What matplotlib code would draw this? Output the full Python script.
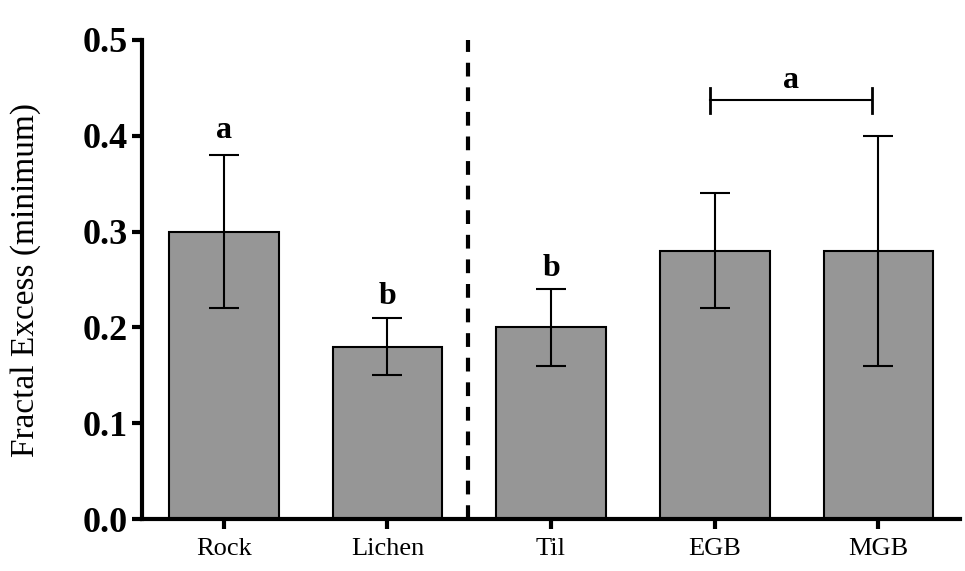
import numpy as np
import matplotlib
matplotlib.use("Agg")
import matplotlib.pyplot as plt

plt.rcParams['font.family'] = ['Liberation Serif', 'DejaVu Serif']

# data
groups = ["Rock", "Lichen", "Til", "EGB", "MGB"]
means = [0.30, 0.18, 0.20, 0.28, 0.28]
err_low = [0.08, 0.03, 0.04, 0.06, 0.12]
err_high = [0.08, 0.03, 0.04, 0.06, 0.12]
letters = ["a", "b", "b", "", ""]
letter_y = [0.406, 0.232, 0.261, None, None]
bracket_y = 0.437
bracket_label = "a"

fig = plt.figure(figsize=(9.65, 5.71), dpi=100)
ax = fig.add_axes([0.147, 0.091, 0.848, 0.839])

x = np.arange(len(groups))
ax.bar(x, means, width=0.67, color="#969696", edgecolor="black", linewidth=1.5, zorder=2)
ax.errorbar(x, means, yerr=[err_low, err_high], fmt="none", ecolor="black",
            elinewidth=1.5, capsize=10.5, capthick=1.5, zorder=3)

for xi, lab, ly in zip(x, letters, letter_y):
    if lab:
        ax.text(xi, ly, lab, ha="center", va="center", fontsize=23, fontweight="bold")

# bracket over EGB and MGB
bx0, bx1 = 2.97, 3.96
ax.plot([bx0, bx1], [bracket_y, bracket_y], color="black", lw=1.5)
ax.plot([bx0, bx0], [bracket_y - 0.013, bracket_y + 0.013], color="black", lw=2)
ax.plot([bx1, bx1], [bracket_y - 0.013, bracket_y + 0.013], color="black", lw=2)
ax.text((bx0 + bx1) / 2, bracket_y + 0.021, bracket_label, ha="center", va="center",
        fontsize=23, fontweight="bold")

# dashed divider
ax.plot([1.49, 1.49], [0, 0.5], color="black", lw=3, dashes=(3.3, 2.6), zorder=4)

ax.set_xlim(-0.5, 4.5)
ax.set_ylim(0, 0.5)
ax.set_yticks([0.0, 0.1, 0.2, 0.3, 0.4, 0.5])
ax.set_yticklabels(["0.0", "0.1", "0.2", "0.3", "0.4", "0.5"], fontsize=26, fontweight="bold")
ax.set_xticks(x)
ax.set_xticklabels(groups, fontsize=19)

ax.spines["top"].set_visible(False)
ax.spines["right"].set_visible(False)
ax.spines["left"].set_linewidth(3)
ax.spines["bottom"].set_linewidth(3)
ax.tick_params(axis="both", direction="out", length=7, width=3)
ax.tick_params(axis="y", pad=3)
ax.tick_params(axis="x", pad=7)

ax.set_ylabel("Fractal Excess (minimum)", fontsize=24)
ax.yaxis.set_label_coords(-0.123, 0.5)

fig.savefig("out.png", dpi=100)
